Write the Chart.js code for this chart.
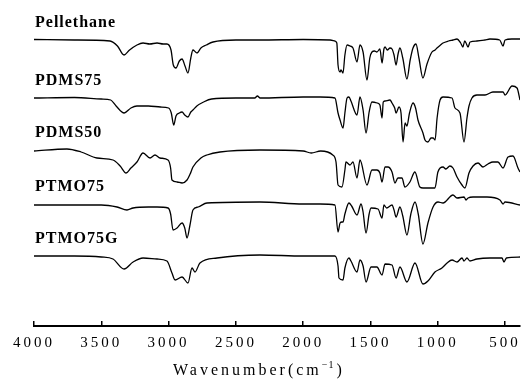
<!DOCTYPE html>
<html><head><meta charset="utf-8">
<script src="https://cdn.jsdelivr.net/npm/chart.js@4.4.1/dist/chart.umd.min.js"></script>
<style>html,body{margin:0;padding:0;background:#fff}#wrap{width:522px;height:385px;position:relative}</style>
</head><body><div id="wrap"><canvas id="c"></canvas></div>
<script>
const seriesNames = ['Pellethane', 'PDMS75', 'PDMS50', 'PTMO75', 'PTMO75G'];
const traceOffsets = [286, 228, 176, 122, 70];
const tickValues = [4000, 3500, 3000, 2500, 2000, 1500, 1000, 500];
const axisTitle = 'Wavenumber';

const pellethane = [[4000,0.5],[3700,0],[3435,-1],[3380,-6],[3331,-15],[3290,-10],[3235,-5],[3190,-3],[3140,-4],[3086,-3],[3040,-4],[3012,-4],[2982,-10],[2965,-25],[2945,-28],[2920,-21],[2900,-19],[2878,-26],[2856,-33],[2835,-18],[2819,-10],[2800,-12],[2789,-13],[2760,-8],[2720,-5],[2670,-2],[2500,0],[2321,0],[2000,0.5],[1800,0],[1764,-1],[1750,-3],[1741,-25],[1726,-32],[1719,-30],[1704,-33],[1690,-15],[1674,-5],[1652,-6],[1630,-8],[1600,-22],[1578,-5],[1555,-12],[1526,-40],[1505,-18],[1489,-12],[1470,-11],[1452,-12],[1430,-9],[1414,-23],[1400,-9],[1392,-7],[1375,-10],[1355,-8],[1340,-9],[1325,-15],[1310,-25],[1295,-14],[1281,-8],[1260,-18],[1229,-39],[1205,-20],[1184,-8],[1162,-4],[1140,-18],[1110,-38],[1080,-24],[1043,-12],[1020,-10],[1006,-8],[980,-5],[961,-3],[920,-1],[887,0],[857,1],[830,-3],[813,-7],[800,-1],[790,-3],[775,-7],[760,-2],[709,-1],[650,0],[612,1],[540,0],[515,-6],[500,0],[450,1],[389,1]];

const pdms75 = [[4000,0],[3700,0.5],[3500,-1],[3430,-2],[3390,-8],[3330,-15],[3280,-10],[3235,-8],[3150,-8],[3060,-9],[3000,-10],[2980,-15],[2962,-27],[2945,-18],[2920,-15],[2900,-14],[2880,-17],[2856,-19],[2835,-14],[2819,-12],[2790,-8],[2740,-4],[2680,-1],[2500,0],[2360,0],[2340,2],[2320,0],[2000,1],[1875,1],[1764,0],[1741,-15],[1726,-22],[1704,-30],[1690,-15],[1674,0],[1660,1],[1645,-3],[1600,-17],[1578,1],[1555,-12],[1533,-35],[1510,-14],[1489,-4],[1450,-5],[1430,-7],[1414,-20],[1405,-4],[1392,-3],[1355,-2],[1340,-5],[1320,-10],[1310,-15],[1288,-9],[1273,-15],[1258,-44],[1243,-25],[1229,-28],[1210,-15],[1184,-5],[1165,-10],[1147,-22],[1110,-35],[1095,-42],[1073,-44],[1050,-40],[1035,-40],[1020,-42],[1005,-20],[983,-2],[961,1],[894,0],[872,-10],[835,-15],[805,-44],[783,-20],[768,-8],[746,0],[709,3],[649,3],[590,6],[515,6],[500,3],[448,12],[411,10],[389,-2]];

const pdms50 = [[4000,-1],[3755,1],[3650,-2],[3532,-8],[3413,-10],[3360,-16],[3316,-23],[3280,-18],[3235,-12],[3190,-3],[3138,-8],[3101,-5],[3064,-8],[3004,-10],[2985,-18],[2975,-30],[2937,-32],[2900,-33],[2863,-30],[2840,-24],[2819,-17],[2760,-8],[2715,-5],[2618,-2],[2321,0],[2000,-1],[1940,-3],[1870,-1],[1780,-5],[1756,-12],[1741,-35],[1712,-37],[1690,-20],[1682,-12],[1652,-15],[1630,-12],[1600,-28],[1578,-10],[1526,-35],[1489,-20],[1452,-20],[1430,-23],[1414,-32],[1392,-17],[1370,-17],[1340,-22],[1318,-33],[1296,-28],[1266,-28],[1244,-37],[1207,-32],[1170,-22],[1133,-37],[1110,-38],[1060,-38],[1021,-38],[999,-22],[961,-17],[940,-19],[910,-16],[887,-18],[857,-27],[820,-35],[798,-38],[768,-23],[738,-16],[701,-13],[664,-17],[627,-14],[590,-12],[553,-12],[515,-18],[478,-7],[441,-6],[404,-18],[389,-22]];

const ptmo75 = [[4000,-1],[3700,-1],[3500,-1],[3383,-3],[3309,-6],[3264,-4],[3150,-3],[3086,-3],[3004,-4],[2985,-10],[2967,-26],[2937,-24],[2900,-19],[2880,-24],[2863,-34],[2841,-21],[2819,-6],[2780,-3],[2715,1],[2321,2],[2000,0],[1875,0],[1764,-1],[1741,-28],[1726,-19],[1712,-18],[1704,-18],[1690,-10],[1660,1],[1640,-2],[1600,-11],[1570,0],[1555,-8],[1533,-29],[1510,-10],[1496,-4],[1444,-5],[1414,-14],[1400,-1],[1380,-4],[1340,-1],[1325,-6],[1310,-13],[1281,-3],[1260,-12],[1229,-31],[1200,-10],[1169,2],[1145,-10],[1110,-40],[1073,-19],[1035,-3],[998,2],[961,1],[887,9],[857,6],[805,7],[790,4],[775,6],[738,7],[634,7],[538,4],[515,0],[500,2],[389,-1]];

const ptmo75g = [[4000,0],[3700,0],[3500,-1],[3413,-3],[3331,-13],[3264,-6],[3190,-2],[3086,-3],[3012,-5],[2975,-17],[2952,-24],[2900,-21],[2856,-27],[2826,-12],[2804,-16],[2767,-7],[2640,-2],[2321,1],[2000,0],[1875,0],[1764,0],[1741,-10],[1734,-22],[1704,-24],[1690,-12],[1660,-2],[1645,-5],[1600,-16],[1578,-4],[1555,-10],[1533,-26],[1496,-11],[1452,-11],[1414,-19],[1392,-8],[1340,-9],[1310,-22],[1281,-11],[1229,-26],[1169,-7],[1110,-28],[1073,-25],[1021,-16],[969,-12],[931,-7],[894,-4],[857,-6],[820,-2],[805,-5],[783,-2],[761,-5],[709,-3],[612,-2],[523,-2],[508,-6],[490,-2],[389,-1]];

const spectra = [pellethane, pdms75, pdms50, ptmo75, ptmo75g];

const serif = '"Liberation Serif", "Times New Roman", serif';

const textPlugin = {
  id: 'textPlugin',
  beforeDraw(chart) {
    chart.ctx.letterSpacing = '3px';
  },
  afterDraw(chart) {
    const ctx = chart.ctx;
    const ys = chart.scales.y;
    ctx.save();
    ctx.fillStyle = '#000';
    ctx.textAlign = 'left';
    ctx.textBaseline = 'alphabetic';
    ctx.letterSpacing = '1px';
    ctx.font = 'bold 16px ' + serif;
    seriesNames.forEach((name, i) => {
      ctx.fillText(name, 35, ys.getPixelForValue(traceOffsets[i]) - 13);
    });
    // axis title
    ctx.letterSpacing = '3px';
    ctx.font = '16px ' + serif;
    let x = 173;
    const base = 375;
    ctx.fillText(axisTitle + '(cm', x, base);
    x += ctx.measureText(axisTitle + '(cm').width;
    ctx.font = '10px ' + serif;
    ctx.letterSpacing = '1px';
    ctx.fillText('\u22121', x, base - 7);
    x += ctx.measureText('\u22121').width + 2;
    ctx.font = '16px ' + serif;
    ctx.letterSpacing = '0px';
    ctx.fillText(')', x, base);
    ctx.restore();
    ctx.letterSpacing = '0px';
  }
};

new Chart(document.getElementById('c'), {
  type: 'line',
  data: {
    datasets: spectra.map((s, i) => ({
      label: seriesNames[i],
      data: s.map(([w, r]) => ({ x: w, y: traceOffsets[i] + r })),
      borderColor: '#000',
      borderWidth: 1.3,
      pointRadius: 0,
      fill: false,
      cubicInterpolationMode: 'monotone'
    }))
  },
  options: {
    responsive: true,
    maintainAspectRatio: false,
    animation: false,
    layout: { padding: { left: 34, right: 2, top: 0, bottom: 0 } },
    plugins: { legend: { display: false }, tooltip: { enabled: false } },
    scales: {
      x: {
        type: 'linear',
        reverse: true,
        min: 389,
        max: 4000,
        afterBuildTicks(scale) { scale.ticks = tickValues.map(v => ({ value: v })); },
        afterFit(scale) { scale.height = 59; scale.paddingLeft = 0; scale.paddingRight = 0; },
        border: { display: true, color: '#000', width: 2 },
        grid: { drawOnChartArea: false, drawTicks: true, tickLength: -5, color: '#000', lineWidth: 1.5 },
        ticks: { color: '#000', font: { family: serif, size: 15 }, padding: 13, maxRotation: 0, autoSkip: false,
                 callback: v => String(v) }
      },
      y: { display: false, min: 0, max: 326 }
    }
  },
  plugins: [textPlugin]
});
</script>
</body></html>
